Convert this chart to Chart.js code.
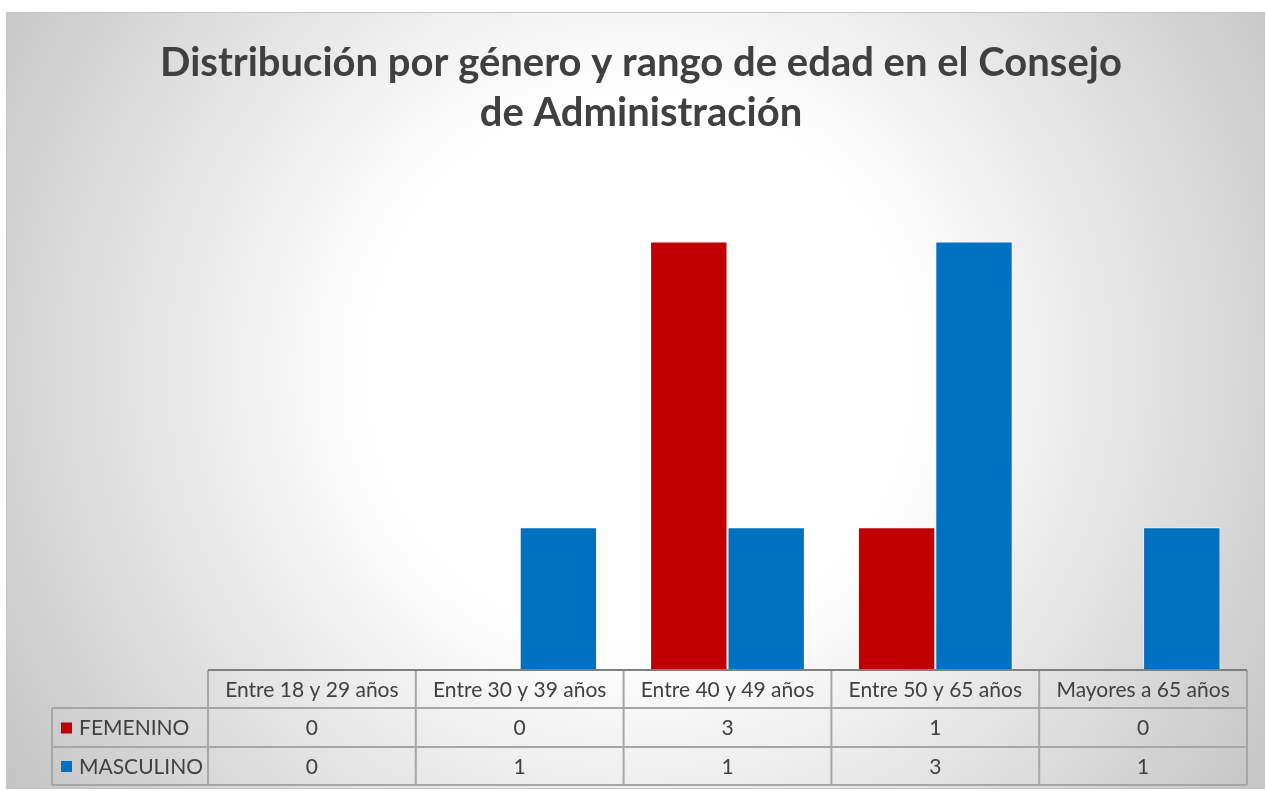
<!DOCTYPE html>
<html>
<head>
<meta charset="utf-8">
<script src="https://cdn.jsdelivr.net/npm/chart.js@4/dist/chart.umd.min.js"></script>
<style>
html,body{margin:0;padding:0;background:#fff;}
#wrap{width:1267px;height:791px;position:relative;}
</style>
</head>
<body>
<div id="wrap"><canvas id="c" width="1267" height="791"></canvas></div>
<script>
const titleLines = ['Distribución por género y rango de edad en el Consejo', 'de Administración'];
const categories = ['Entre 18 y 29 años', 'Entre 30 y 39 años', 'Entre 40 y 49 años', 'Entre 50 y 65 años', 'Mayores a 65 años'];
const seriesNames = ['FEMENINO', 'MASCULINO'];
const femenino = [0, 0, 3, 1, 0];
const masculino = [0, 1, 1, 3, 1];
const seriesColors = ['#C00000', '#0070C0'];

const TEXT = '#404040';
const FONT = 'Lato, "Open Sans", sans-serif';

const bgPlugin = {
  id: 'bg',
  beforeDraw(chart) {
    const ctx = chart.ctx;
    ctx.save();
    ctx.fillStyle = '#ffffff';
    ctx.fillRect(0, 0, chart.width, chart.height);
    const g = ctx.createRadialGradient(640, 370, 0, 640, 370, 760);
    g.addColorStop(0, '#ffffff');
    g.addColorStop(0.36, '#ffffff');
    g.addColorStop(1, '#c4c4c4');
    ctx.fillStyle = g;
    ctx.fillRect(6, 12, 1259, 777);
    ctx.strokeStyle = '#c4c4c4';
    ctx.lineWidth = 1;
    ctx.strokeRect(6.5, 12.5, 1258, 776);
    ctx.restore();
  }
};

const tablePlugin = {
  id: 'dataTable',
  afterDraw(chart) {
    const ctx = chart.ctx;
    const xs = chart.scales.x;
    const area = chart.chartArea;
    const n = categories.length;
    const cw = (area.right - area.left) / n;
    const top = area.bottom;
    const rowH = [38, 39, 38];
    const y0 = top, y1 = y0 + rowH[0], y2 = y1 + rowH[1], y3 = y2 + rowH[2];
    const legLeft = 52;
    ctx.save();
    ctx.strokeStyle = '#a6a6a6';
    ctx.lineWidth = 2;
    ctx.beginPath();
    ctx.moveTo(legLeft, y1); ctx.lineTo(area.right, y1);
    ctx.moveTo(legLeft, y2); ctx.lineTo(area.right, y2);
    ctx.moveTo(legLeft, y3); ctx.lineTo(area.right, y3);
    for (let i = 0; i <= n; i++) {
      const x = i === n ? area.right : xs.getPixelForValue(i) - cw / 2;
      ctx.moveTo(x, y0); ctx.lineTo(x, y3);
    }
    ctx.moveTo(legLeft, y1); ctx.lineTo(legLeft, y3);
    ctx.stroke();
    ctx.strokeStyle = '#7f7f7f';
    ctx.beginPath();
    ctx.moveTo(area.left, y0); ctx.lineTo(area.right, y0);
    ctx.stroke();

    ctx.fillStyle = TEXT;
    ctx.font = '21px ' + FONT;
    ctx.textAlign = 'center';
    ctx.textBaseline = 'middle';
    const cy = [(y0 + y1) / 2 + 1, (y1 + y2) / 2 + 1, (y2 + y3) / 2 + 1];
    const series = [femenino, masculino];
    for (let i = 0; i < n; i++) {
      const x = xs.getPixelForValue(i);
      ctx.fillText(categories[i], x, cy[0]);
      ctx.fillText(String(series[0][i]), x, cy[1]);
      ctx.fillText(String(series[1][i]), x, cy[2]);
    }
    ctx.textAlign = 'left';
    for (let s = 0; s < 2; s++) {
      ctx.fillStyle = seriesColors[s];
      ctx.fillRect(61, cy[s + 1] - 6, 11, 11);
      ctx.fillStyle = TEXT;
      ctx.fillText(seriesNames[s], 79, cy[s + 1]);
    }
    ctx.restore();
  }
};

new Chart(document.getElementById('c'), {
  type: 'bar',
  data: {
    labels: categories,
    datasets: [
      { label: seriesNames[0], data: femenino, backgroundColor: seriesColors[0], borderColor: 'rgba(255,255,255,0.55)', borderWidth: 1 },
      { label: seriesNames[1], data: masculino, backgroundColor: seriesColors[1], borderColor: 'rgba(255,255,255,0.55)', borderWidth: 1 }
    ]
  },
  options: {
    responsive: false,
    animation: false,
    devicePixelRatio: 1,
    layout: { padding: { left: 35, right: 20, top: 0, bottom: 121 } },
    datasets: { bar: { categoryPercentage: 0.745, barPercentage: 1.0 } },
    plugins: {
      legend: { display: false },
      tooltip: { enabled: false },
      title: {
        display: true,
        text: titleLines,
        color: TEXT,
        font: { family: FONT, size: 40, weight: 'bold', lineHeight: 50 / 40 },
        padding: { top: 38, bottom: 32 }
      }
    },
    scales: {
      x: {
        grid: { display: false },
        border: { display: false },
        ticks: { display: false },
        afterFit(scale) { scale.height = 0; }
      },
      y: {
        min: 0, max: 3.5,
        grid: { display: false },
        border: { display: false },
        ticks: { display: false },
        afterFit(scale) { scale.width = 173; }
      }
    }
  },
  plugins: [bgPlugin, tablePlugin]
});
</script>
</body>
</html>
